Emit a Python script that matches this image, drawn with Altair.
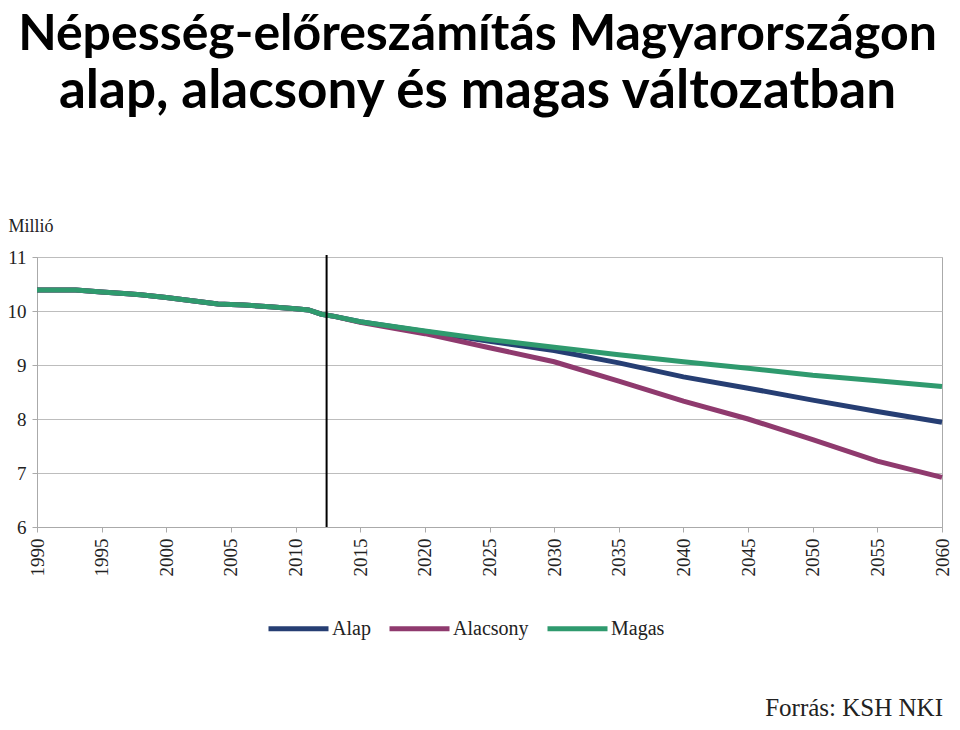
import altair as alt
import pandas as pd

# shared historical values (million people)
hist_years = [1990, 1992, 1993, 1995, 1997, 1998, 2000, 2002, 2004, 2005, 2006, 2008, 2010, 2011, 2012, 2013]
hist_values = [10.39, 10.39, 10.39, 10.35, 10.32, 10.30, 10.25, 10.19, 10.13, 10.12, 10.11, 10.08, 10.04, 10.02, 9.94, 9.90]

# projections
proj_years = [2015, 2020, 2025, 2030, 2035, 2040, 2045, 2050, 2055, 2060]
alap = [9.80, 9.62, 9.44, 9.27, 9.04, 8.78, 8.57, 8.35, 8.14, 7.94]
alacsony = [9.79, 9.58, 9.32, 9.06, 8.70, 8.33, 8.00, 7.62, 7.22, 6.92]
magas = [9.80, 9.63, 9.47, 9.33, 9.19, 9.06, 8.94, 8.81, 8.71, 8.60]

series_names = ["Alap", "Alacsony", "Magas"]
series_colors = ["#263e73", "#8f3a6e", "#2f9a6e"]
x_ticks = [1990, 1995, 2000, 2005, 2010, 2015, 2020, 2025, 2030, 2035, 2040, 2045, 2050, 2055, 2060]
y_ticks = [6, 7, 8, 9, 10, 11]
marker_year = [2012.4]
title_line1 = "Népesség-előreszámítás Magyarországon"
title_line2 = "alap, alacsony  és magas változatban"
source_text = ["Forrás: KSH NKI"]

rows = []
for name, vals in zip(series_names, [alap, alacsony, magas]):
    for y, v in zip(hist_years, hist_values):
        rows.append({"year": y, "value": v, "series": name, "order": series_names.index(name)})
    for y, v in zip(proj_years, vals):
        rows.append({"year": y, "value": v, "series": name, "order": series_names.index(name)})
df = pd.DataFrame(rows)

x_enc = alt.X("year:Q",
              scale=alt.Scale(domain=[1990, 2060], nice=False),
              axis=alt.Axis(values=x_ticks, format="d", labelAngle=270, labelFont="Liberation Serif",
                            labelFontSize=19, labelColor="#222", labelPadding=6, tickSize=5,
                            tickColor="#aaaaaa", domainColor="#aaaaaa", grid=False, title=None,
                            labelAlign="right", labelBaseline="middle"))
y_enc = alt.Y("value:Q",
              scale=alt.Scale(domain=[6, 11], nice=False),
              axis=alt.Axis(values=y_ticks, labelFont="Liberation Serif", labelFontSize=19,
                            labelColor="#222", labelPadding=6, tickSize=5, tickColor="#aaaaaa",
                            domainColor="#aaaaaa", gridColor="#bdbdbd", title="Millió",
                            titleFont="Liberation Serif", titleFontSize=18, titleFontWeight="normal",
                            titleColor="#222", titleAngle=0, titleAlign="left", titleBaseline="alphabetic",
                            titleX=-29, titleY=-26))

lines = alt.Chart(df).mark_line(strokeWidth=5).encode(
    x=x_enc,
    y=y_enc,
    color=alt.Color("series:N",
                    scale=alt.Scale(domain=series_names, range=series_colors),
                    sort=series_names,
                    legend=alt.Legend(title=None, orient="none", direction="horizontal",
                                      legendX=229, legendY=339, symbolType="stroke",
                                      symbolSize=3600, symbolStrokeWidth=5,
                                      labelFont="Liberation Serif", labelFontSize=20,
                                      labelColor="#222", columnPadding=8, labelOffset=1)),
    order="order:Q",
)

rule = alt.Chart(pd.DataFrame({"year": marker_year})).mark_rule(color="black", strokeWidth=2).encode(
    x="year:Q", y=alt.value(-2), y2=alt.value(270)
)

source = alt.Chart(pd.DataFrame({"t": source_text})).mark_text(
    align="right", baseline="alphabetic", font="Liberation Serif", fontSize=25, color="#222"
).encode(text="t:N", x=alt.value(906), y=alt.value(459))

chart = alt.layer(lines, rule, source).properties(
    width=905, height=270,
    padding={"left": 29, "top": 249, "right": 10, "bottom": 195},
    autosize=alt.AutoSizeParams(type="none"),
    title=alt.TitleParams(title_line1, subtitle=title_line2,
                          font="Lato", fontSize=50, fontWeight="bold", color="black",
                          subtitleFont="Lato", subtitleFontSize=53, subtitleFontWeight="bold",
                          subtitleColor="black", subtitlePadding=6,
                          anchor="middle", offset=98, dx=-12),
).configure_view(stroke="#aaaaaa")

chart.save("out.html", embed_options={"renderer": "svg", "actions": False})
